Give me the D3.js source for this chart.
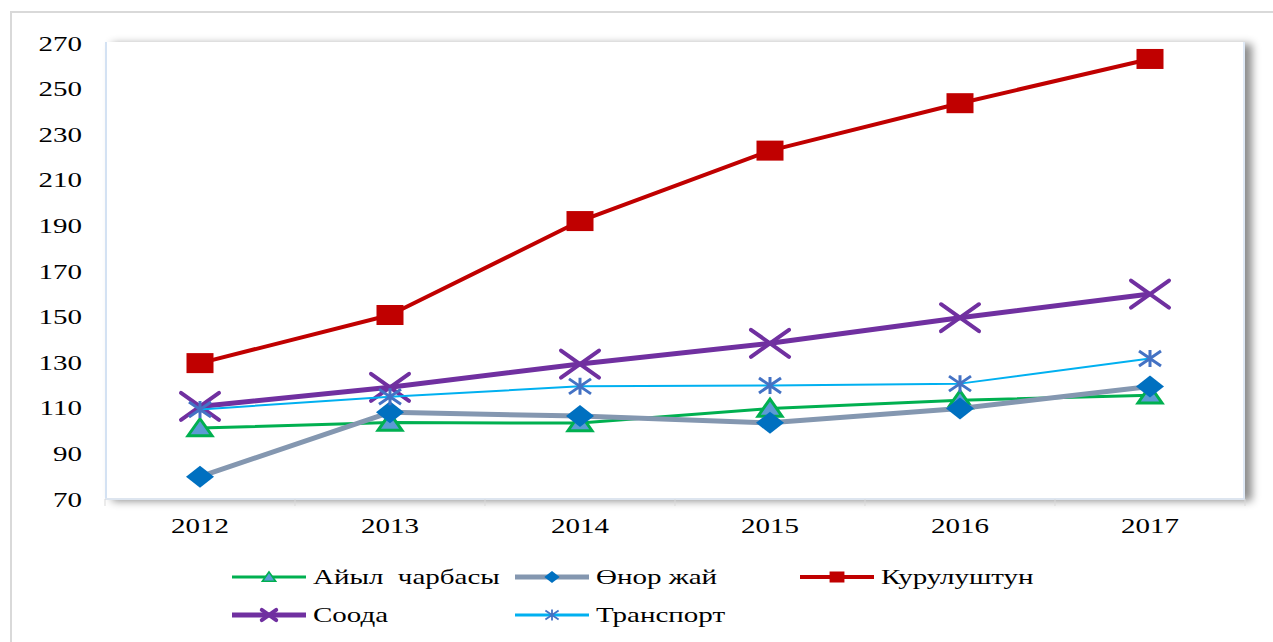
<!DOCTYPE html>
<html>
<head>
<meta charset="utf-8">
<script src="https://cdn.jsdelivr.net/npm/d3@7"></script>
<style>
  html, body { margin: 0; padding: 0; background: #fff; }
  svg { display: block; }
  text { font-family: "Liberation Serif", "Times New Roman", serif; fill: #000; white-space: pre; }
</style>
</head>
<body>
<svg id="chart" width="1273" height="642"></svg>
<script>
// ---- data ----
const years = ["2012", "2013", "2014", "2015", "2016", "2017"];
const yTicks = [70, 90, 110, 130, 150, 170, 190, 210, 230, 250, 270];
const seriesNames = ["Айыл  чарбасы", "Өнор жай", "Курулуштун", "Соода", "Транспорт"];
const agriculture = [101.1, 103.5, 103.3, 109.7, 113.3, 115.5];
const industry = [79.8, 108.0, 106.4, 103.4, 109.7, 119.3];
const construction = [129.6, 150.7, 191.9, 222.8, 243.6, 263.0];
const trade = [110.6, 119.0, 129.2, 138.3, 149.5, 159.9];
const transport = [109.3, 114.8, 119.4, 119.8, 120.6, 131.6];

// ---- styles ----
const styles = [
  { values: agriculture, line: "#00B050", width: 3, marker: "triangle", fill: "#5B9BD5", stroke: "#00B050", lk: 0.55 },
  { values: industry, line: "#8497B0", width: 5, marker: "diamond", fill: "#0070C0", stroke: "#0070C0", lk: 0.55 },
  { values: construction, line: "#C00000", width: 4, marker: "square", fill: "#C00000", stroke: "#C00000", lk: 0.55 },
  { values: trade, line: "#7030A0", width: 5, marker: "x", fill: "none", stroke: "#7030A0", lk: 0.38 },
  { values: transport, line: "#00B0F0", width: 2, marker: "star", fill: "none", stroke: "#4472C4", lk: 0.6 }
];

const SX = 1.45; // horizontal stretch of the original image
const svg = d3.select("#chart");
const W = 1273, H = 642;
const plot = { left: 105, right: 1245, top: 43, bottom: 499 };

const defs = svg.append("defs");
const f = defs.append("filter").attr("id", "shadow").attr("x", "-5%").attr("y", "-5%").attr("width", "115%").attr("height", "115%");
f.append("feDropShadow").attr("dx", 7).attr("dy", 2).attr("stdDeviation", 4)
  .attr("flood-color", "#000").attr("flood-opacity", 0.45);

// outer frame
svg.append("rect").attr("x", 11).attr("y", 12).attr("width", W).attr("height", H)
  .attr("fill", "#fff").attr("stroke", "#d9d9d9").attr("stroke-width", 2);

const x = d3.scaleBand().domain(years).range([plot.left, plot.right]);
const cx = d => x(d) + x.bandwidth() / 2;
const y = d3.scaleLinear().domain([70, 270]).range([plot.bottom, plot.top]);

// plot area
svg.append("rect")
  .attr("x", plot.left).attr("y", plot.top - 1)
  .attr("width", plot.right - plot.left).attr("height", plot.bottom - plot.top + 1)
  .attr("fill", "#fff").attr("filter", "url(#shadow)");
svg.append("line").attr("x1", plot.left + 1).attr("x2", plot.left + 1)
  .attr("y1", plot.top - 1).attr("y2", plot.bottom).attr("stroke", "#d4e2f3").attr("stroke-width", 2);
svg.append("line").attr("x1", plot.left).attr("x2", plot.right)
  .attr("y1", plot.bottom).attr("y2", plot.bottom).attr("stroke", "#dde5ef").attr("stroke-width", 2);
svg.append("line").attr("x1", plot.right - 1).attr("x2", plot.right - 1)
  .attr("y1", plot.top - 1).attr("y2", plot.bottom).attr("stroke", "#d4e2f3").attr("stroke-width", 1.5);

// y axis labels via d3.axisLeft
const yAxis = svg.append("g").attr("transform", `translate(${plot.left},0)`)
  .call(d3.axisLeft(y).tickValues(yTicks).tickSize(0).tickPadding(0));
yAxis.select(".domain").remove();
yAxis.selectAll("text")
  .attr("x", 0).attr("dy", "0.35em")
  .attr("text-anchor", "end")
  .attr("transform", `translate(-23,0) scale(${SX},1)`)
  .style("font-family", "'Liberation Serif', serif")
  .style("font-size", "20px").style("fill", "#000");

// x axis labels via d3.axisBottom
const xAxis = svg.append("g").attr("transform", `translate(0,${plot.bottom})`)
  .call(d3.axisBottom(x).tickSize(0).tickPadding(0));
xAxis.select(".domain").remove();
xAxis.selectAll(".tick").attr("transform", d => `translate(${cx(d)},0)`);
xAxis.selectAll("text")
  .attr("y", 0).attr("dy", "0.35em")
  .attr("transform", `translate(0,27) scale(${SX},1)`)
  .style("font-family", "'Liberation Serif', serif")
  .style("font-size", "20px").style("fill", "#000");
// boundary ticks
const bounds = years.map(d => x(d)).concat([x.range()[1]]);
svg.append("g").selectAll("line").data(bounds).join("line")
  .attr("x1", d => d).attr("x2", d => d)
  .attr("y1", plot.bottom).attr("y2", plot.bottom + 7)
  .attr("stroke", "#d9d9d9").attr("stroke-width", 1);

// markers
function drawMarker(g, type, px, py, s, scale) {
  const k = scale || 1;
  if (type === "triangle") {
    const w = 12 * k, h = 17 * k;
    g.append("path").attr("d", `M${px},${py - h * 0.55} L${px + w},${py + h * 0.45} L${px - w},${py + h * 0.45} Z`)
      .attr("fill", s.fill).attr("stroke", s.stroke).attr("stroke-width", 3 * k).attr("stroke-linejoin", "miter");
  } else if (type === "diamond") {
    const w = 14 * k, h = 11 * k;
    g.append("path").attr("d", `M${px},${py - h} L${px + w},${py} L${px},${py + h} L${px - w},${py} Z`)
      .attr("fill", s.fill);
  } else if (type === "square") {
    const w = 13.5 * k, h = 10 * k;
    g.append("rect").attr("x", px - w).attr("y", py - h).attr("width", 2 * w).attr("height", 2 * h)
      .attr("fill", s.fill);
  } else if (type === "x") {
    const w = 19 * k, h = 13.5 * k;
    g.append("path").attr("d", `M${px - w},${py - h} L${px + w},${py + h} M${px - w},${py + h} L${px + w},${py - h}`)
      .attr("stroke", s.stroke).attr("stroke-width", (k < 1 ? 4 : 4)).attr("stroke-linecap", "round").attr("fill", "none");
  } else if (type === "star") {
    const w = 11 * k, h = 7.5 * k;
    g.append("path").attr("d", `M${px - w},${py - h} L${px + w},${py + h} M${px - w},${py + h} L${px + w},${py - h} M${px},${py - h - 1} L${px},${py + h + 1}`)
      .attr("stroke", s.stroke).attr("stroke-width", 3 * k).attr("fill", "none");
  }
}

const line = d3.line().x((d, i) => cx(years[i])).y(d => y(d));
styles.forEach(s => {
  const g = svg.append("g");
  g.append("path").datum(s.values).attr("d", line)
    .attr("fill", "none").attr("stroke", s.line).attr("stroke-width", s.width)
    .attr("stroke-linejoin", "round");
  s.values.forEach((v, i) => drawMarker(g, s.marker, cx(years[i]), y(v), s, 1));
});

// legend
const legendPos = [
  { x0: 232, y: 577 }, { x0: 515, y: 577 }, { x0: 800, y: 577 },
  { x0: 232, y: 615 }, { x0: 515, y: 615 }
];
styles.forEach((s, i) => {
  const p = legendPos[i];
  const g = svg.append("g");
  const x1 = p.x0 + 74;
  g.append("line").attr("x1", p.x0).attr("x2", x1).attr("y1", p.y).attr("y2", p.y)
    .attr("stroke", s.line).attr("stroke-width", Math.max(s.width, 3));
  drawMarker(g, s.marker, (p.x0 + x1) / 2, p.y, s, s.lk);
  g.append("text").attr("x", 0).attr("y", 0).attr("dy", "0.35em")
    .attr("xml:space", "preserve")
    .attr("transform", `translate(${x1 + 7},${p.y}) scale(${SX},1)`)
    .style("font-size", "20px")
    .text(seriesNames[i]);
});
</script>
</body>
</html>
